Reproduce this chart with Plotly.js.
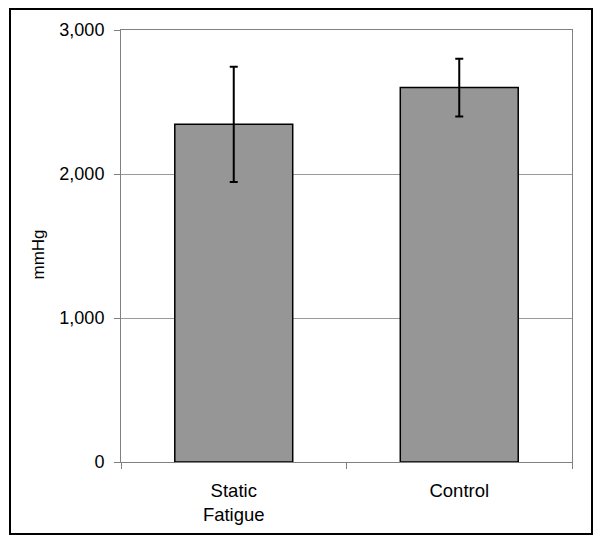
<!DOCTYPE html>
<html>
<head>
<meta charset="utf-8">
<script src="https://cdn.plot.ly/plotly-3.0.1.min.js"></script>
<style>
html,body{margin:0;padding:0;background:#fff;}
#chart{width:601px;height:543px;}
</style>
</head>
<body>
<div id="chart"></div>
<script>
var categories = ["Static<br>Fatigue", "Control"];
var values = [2345, 2600];
var errors = [400, 200];
var yTickVals = [0, 1000, 2000, 3000];
var yTickText = ["0", "1,000", "2,000", "3,000"];
var yTitle = "mmHg";

var trace = {
  type: "bar",
  x: categories,
  y: values,
  marker: {color: "#969696", line: {color: "#000000", width: 1.5}},
  error_y: {type: "data", array: errors, visible: true, color: "#000000", thickness: 2, width: 4},
  hoverinfo: "none"
};

var layout = {
  width: 601,
  height: 543,
  margin: {l: 121, r: 29, t: 30, b: 81},
  paper_bgcolor: "#ffffff",
  plot_bgcolor: "#ffffff",
  bargap: 0.477,
  showlegend: false,
  font: {family: "Arial, 'Liberation Sans', sans-serif", color: "#000000"},
  xaxis: {
    type: "category",
    showline: true, mirror: true, linecolor: "#808080", linewidth: 1,
    ticks: "outside", tickson: "boundaries", ticklen: 6, tickcolor: "#808080",
    ticklabelstandoff: 12,
    tickfont: {size: 18.5, color: "#000000"},
    showgrid: false, zeroline: false
  },
  yaxis: {
    range: [0, 3000],
    tickvals: yTickVals, ticktext: yTickText,
    showline: true, mirror: true, linecolor: "#808080", linewidth: 1,
    ticks: "outside", ticklen: 6, tickcolor: "#808080",
    ticklabelstandoff: 6,
    tickfont: {size: 18, color: "#000000"},
    showgrid: true, gridcolor: "#999999", gridwidth: 1,
    zeroline: false
  },
  annotations: [{
    text: yTitle, textangle: -90, showarrow: false,
    xref: "paper", yref: "paper",
    x: (38.5 - 121) / 451, y: (462 - 255) / 432,
    xanchor: "center", yanchor: "middle",
    font: {size: 17, color: "#000000"}
  }],
  shapes: [{
    type: "rect", xref: "paper", yref: "paper",
    x0: (10 - 121) / 451, x1: (592 - 121) / 451,
    y0: (462 - 534) / 432, y1: (462 - 9) / 432,
    line: {color: "#000000", width: 2}, fillcolor: "rgba(0,0,0,0)", layer: "above"
  }]
};

Plotly.newPlot("chart", [trace], layout, {staticPlot: true, displayModeBar: false});
</script>
</body>
</html>
